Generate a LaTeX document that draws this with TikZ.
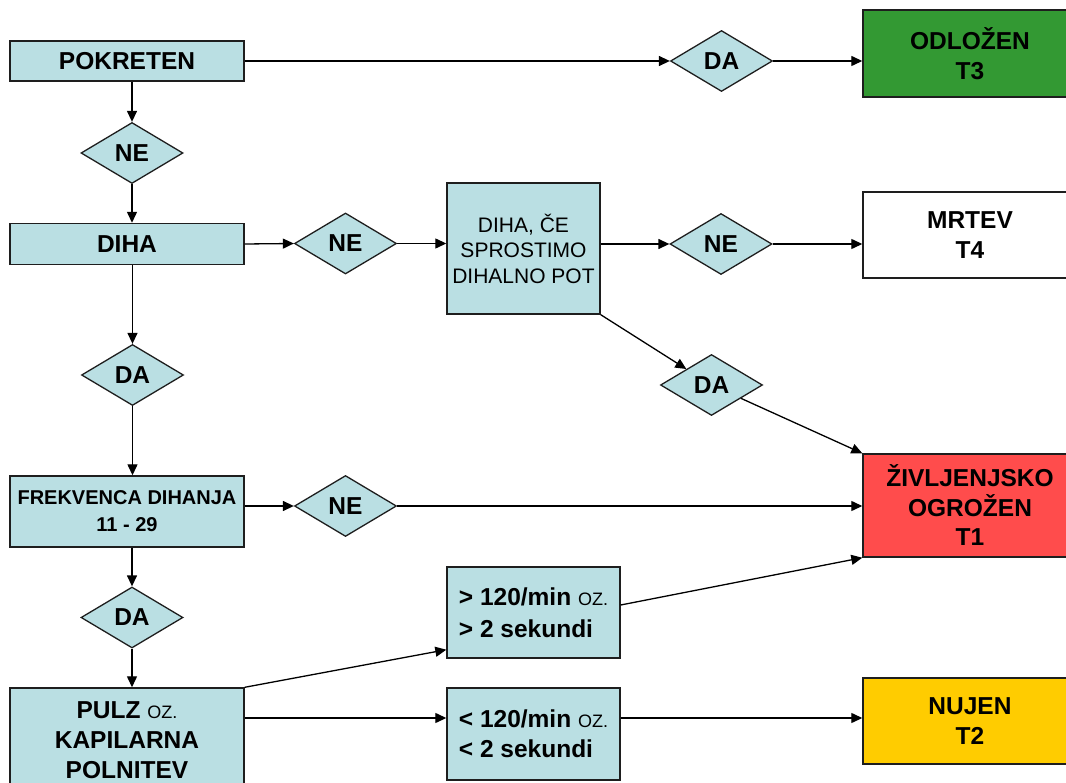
\documentclass[tikz,border=0pt]{standalone}
\usepackage{fontspec}
\setmainfont{Liberation Sans}
\usetikzlibrary{shapes.geometric,arrows.meta,calc}

\definecolor{lblue}{RGB}{186,223,227}
\definecolor{tgreen}{RGB}{51,153,51}
\definecolor{tred}{RGB}{255,76,76}
\definecolor{tyellow}{RGB}{255,204,0}
\definecolor{edge}{RGB}{30,30,30}

\newcommand{\ozsmall}{{\fontsize{18}{20}\selectfont\mdseries OZ.}}

\tikzset{
  stepbox/.style={draw=edge, line width=1.4pt, fill=lblue, inner sep=0pt,
    align=center, font=\fontsize{24.5}{30}\selectfont\bfseries},
  tbox/.style={stepbox, minimum width=214pt},
  choice/.style={diamond, draw=edge, line width=1.3pt, fill=lblue, inner sep=0pt,
    minimum width=102pt, minimum height=61pt,
    font=\fontsize{24.5}{26}\selectfont\bfseries},
  link/.style={line width=1.3pt, draw=black,
    -{Triangle[length=11pt,width=10pt]}}
}

\begin{document}
\begin{tikzpicture}[x=1pt,y=-1pt]
\useasboundingbox (0,0) rectangle (1066,783);
\clip (0,0) rectangle (1066,783);

% left column
\node[stepbox, minimum width=234pt, minimum height=40pt] (pok) at (127,61) {POKRETEN};
\node[choice] (ne1) at (132,153) {NE};
\node[stepbox, minimum width=234pt, minimum height=41pt] (diha) at (127,244) {DIHA};
\node[choice] (da2) at (132.5,375) {DA};
\node[stepbox, minimum width=234pt, minimum height=71pt,
      font=\fontsize{20}{27}\selectfont\bfseries] (frek) at (127,511.5)
      {FREKVENCA DIHANJA\\11 - 29};
\node[choice] (da4) at (132,617.5) {DA};
\node[stepbox, minimum width=234pt, minimum height=105pt] (pulz) at (127,740.5)
      {PULZ \ozsmall\\KAPILARNA\\POLNITEV};

% middle column
\node[choice] (ne2) at (345.5,243.5) {NE};
\node[choice] (ne4) at (345.5,506) {NE};
\node[stepbox, minimum width=153pt, minimum height=131pt,
      font=\fontsize{21}{25.5}\selectfont] (dihace) at (523.5,248.5)
      {DIHA, ČE\\SPROSTIMO\\DIHALNO POT};
\node[stepbox, minimum width=173pt, minimum height=91pt, align=left,
      font=\fontsize{24.5}{32}\selectfont\bfseries] (gt) at (533.5,612.5)
      {> 120/min \ozsmall\\> 2 sekundi};
\node[stepbox, minimum width=173pt, minimum height=92pt, align=left,
      font=\fontsize{24.5}{30}\selectfont\bfseries] (lt) at (533.5,734)
      {< 120/min \ozsmall\\< 2 sekundi};
\node[choice] (da1) at (721.5,61) {DA};
\node[choice] (ne3) at (721,244) {NE};
\node[choice] (da3) at (711.5,385) {DA};

% triage outcomes
\node[tbox, fill=tgreen, minimum height=87pt] (odl) at (970,53.5) {ODLOŽEN\\T3};
\node[tbox, fill=white, minimum height=86pt] (mrtev) at (970,235) {MRTEV\\T4};
\node[tbox, fill=tred, minimum height=103pt, font=\fontsize{24.5}{29.5}\selectfont\bfseries]
      (t1) at (970,505.5) {ŽIVLJENJSKO\\OGROŽEN\\T1};
\node[tbox, fill=tyellow, minimum height=86pt] (nujen) at (970,721) {NUJEN\\T2};

% auxiliary anchor points
\coordinate (gtin) at ([yshift=9pt]gt.south west);
\coordinate (gtout) at ([yshift=7.5pt]gt.east);
\coordinate (ltin) at ([yshift=16pt]lt.west);

% connectors
\draw[link] (pok.east) -- (da1.west);
\draw[link] (da1.east) -- (odl.west |- da1);
\draw[link] (pok.south -| ne1) -- (ne1.north);
\draw[link] (ne1.south) -- (diha.north -| ne1);
\draw[link] (diha.east) -- (ne2.west);
\draw[link] (ne2.east) -- (dihace.west |- ne2);
\draw[link] (dihace.east |- ne3) -- (ne3.west);
\draw[link] (ne3.east) -- (mrtev.west |- ne3);
\draw[link] (dihace.south east) -- (da3);
\draw[link] (da3) -- (t1.north west);
\draw[link] (diha.south -| da2) -- (da2.north);
\draw[link] (da2.south) -- (frek.north -| da2);
\draw[link] (frek.east |- ne4) -- (ne4.west);
\draw[link] (ne4.east) -- (t1.west |- ne4);
\draw[link] (frek.south -| da4) -- (da4.north);
\draw[link] (da4.south) -- (pulz.north -| da4);
\draw[link] (pulz.north east) -- (gtin);
\draw[link] (gtout) -- (t1.south west);
\draw[link] (pulz.east |- ltin) -- (ltin);
\draw[link] (lt.east |- ltin) -- (nujen.west |- ltin);
\end{tikzpicture}
\end{document}
